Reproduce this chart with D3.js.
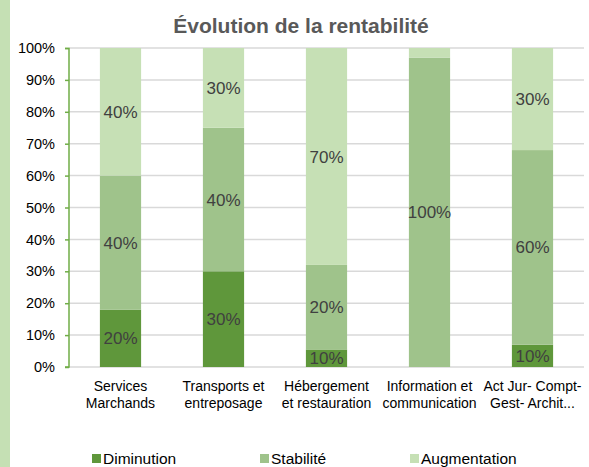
<!DOCTYPE html>
<html>
<head>
<meta charset="utf-8">
<script src="https://cdn.jsdelivr.net/npm/d3@7"></script>
<style>
  body { margin: 0; background: #fff; }
  text { font-family: "Liberation Sans", Arial, sans-serif; }
</style>
</head>
<body>
<div id="chart"></div>
<script>
var categories = [["Services", "Marchands"], ["Transports et", "entreposage"], ["Hébergement", "et restauration"], ["Information et", "communication"], ["Act Jur- Compt-", "Gest- Archit..."]];
var seriesNames = ["Diminution", "Stabilité", "Augmentation"];
var diminution = [18, 30, 5.5, 0, 7];
var stabilite = [42, 45, 26.5, 97, 61];
var augmentation = [40, 25, 68, 3, 32];
var labelsDim = ["20%", "30%", "10%", "", "10%"];
var labelsStab = ["40%", "40%", "20%", "100%", "60%"];
var labelsAug = ["40%", "30%", "70%", "", "30%"];
var yTicks = [0, 10, 20, 30, 40, 50, 60, 70, 80, 90, 100];

var colors = ["#5f973b", "#9fc38b", "#c6e0b5"];

var width = 589, height = 467;
var margin = {top: 48, right: 4, bottom: 99, left: 69};

var svg = d3.select("#chart").append("svg")
  .attr("width", width)
  .attr("height", height);

// light green strip on the left
svg.append("rect").attr("x", 0).attr("y", 0).attr("width", 10).attr("height", height).attr("fill", "#c5e0b4");

svg.append("text")
  .attr("x", 301).attr("y", 33)
  .attr("text-anchor", "middle")
  .style("font-size", "21px").style("font-weight", "bold")
  .attr("fill", "#595959")
  .text("Évolution de la rentabilité");

var chart = svg.append("g").attr("transform", "translate(" + margin.left + "," + margin.top + ")");
var w = width - margin.left - margin.right - 1, h = height - margin.top - margin.bottom - 1;

var x = d3.scaleBand().domain(d3.range(categories.length)).range([0, w]).paddingInner(0.6).paddingOuter(0.3);
var y = d3.scaleLinear().domain([0, 100]).range([h, 0]);

// gridlines
chart.append("g").selectAll("line").data(yTicks).enter().append("line")
  .attr("x1", 0).attr("x2", w)
  .attr("y1", function(d) { return y(d); }).attr("y2", function(d) { return y(d); })
  .attr("stroke", "#d9d9d9").attr("stroke-width", 1.5);

var rows = diminution.map(function(d, i) {
  return {i: i, Diminution: d, "Stabilité": stabilite[i], Augmentation: augmentation[i]};
});
var stacked = d3.stack().keys(seriesNames)(rows);
var labels = [labelsDim, labelsStab, labelsAug];

stacked.forEach(function(layer, k) {
  var g = chart.append("g");
  g.selectAll("rect").data(layer).enter().append("rect")
    .attr("x", function(d) { return x(d.data.i); })
    .attr("width", x.bandwidth())
    .attr("y", function(d) { return y(d[1]); })
    .attr("height", function(d) { return y(d[0]) - y(d[1]); })
    .attr("fill", colors[k]);
  g.selectAll("text").data(layer).enter().append("text")
    .attr("x", function(d) { return x(d.data.i) + x.bandwidth() / 2; })
    .attr("y", function(d) { return (y(d[0]) + y(d[1])) / 2; })
    .attr("dy", "0.36em")
    .attr("text-anchor", "middle")
    .style("font-size", "17px")
    .attr("fill", "#404040")
    .text(function(d) { return labels[k][d.data.i]; });
});

// y axis
var yAxis = d3.axisLeft(y).tickValues(yTicks).tickSize(4).tickPadding(10).tickFormat(function(d) { return d + "%"; });
var ya = chart.append("g").call(yAxis);
ya.select(".domain").attr("stroke", "#70ad47").attr("stroke-width", 1.5).attr("d", "M-4,0.5H0V" + h + "H-4");
ya.selectAll(".tick line").attr("stroke", "#70ad47").attr("stroke-width", 1.5);
ya.selectAll(".tick text").style("font-size", "14.5px").attr("fill", "#000");

// x labels
var xl = chart.append("g").attr("transform", "translate(0," + h + ")");
categories.forEach(function(c, i) {
  var t = xl.append("text")
    .attr("x", x(i) + x.bandwidth() / 2)
    .attr("y", 24)
    .attr("text-anchor", "middle")
    .style("font-size", "14px")
    .attr("fill", "#000");
  c.forEach(function(line, j) {
    t.append("tspan").attr("x", x(i) + x.bandwidth() / 2).attr("dy", j === 0 ? 0 : 17).text(line);
  });
});

// legend
var legendX = [92, 260, 410];
var legend = svg.append("g");
seriesNames.forEach(function(s, k) {
  legend.append("rect").attr("x", legendX[k]).attr("y", 454).attr("width", 9).attr("height", 9).attr("fill", colors[k]);
  legend.append("text").attr("x", legendX[k] + 11).attr("y", 464)
    .style("font-size", "15.5px").attr("fill", "#000").text(s);
});
</script>
</body>
</html>
